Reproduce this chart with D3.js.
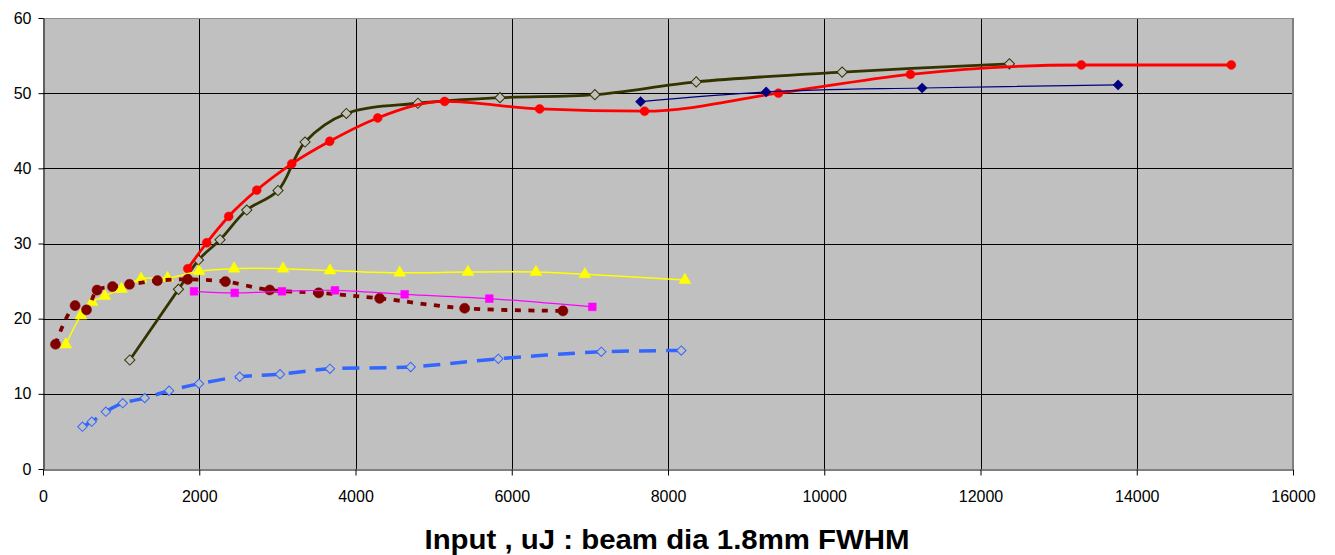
<!DOCTYPE html>
<html>
<head>
<meta charset="utf-8">
<script src="https://cdn.jsdelivr.net/npm/d3@7"></script>
<style>
  body { margin: 0; background: #fff; }
  text { font-family: Arial, "Liberation Sans", sans-serif; }
</style>
</head>
<body>
<div id="chart"></div>
<script>
// axis ticks
const xTicks = [0, 2000, 4000, 6000, 8000, 10000, 12000, 14000, 16000];
const yTicks = [0, 10, 20, 30, 40, 50, 60];

// series values (input uJ, output)
const oliveX = [1111, 1734, 1990, 2266, 2608, 3008, 3354, 3883, 4799, 5849, 7064, 8361, 10229, 12370];
const oliveY = [14.5, 23.9, 27.8, 30.5, 34.45, 37.05, 43.5, 47.3, 48.66, 49.4, 49.8, 51.5, 52.8, 53.9];

const redX = [1853, 2096, 2377, 2736, 3184, 3670, 4284, 5141, 6357, 7700, 9414, 11103, 13291, 15210];
const redY = [26.65, 30.1, 33.6, 37.1, 40.6, 43.6, 46.7, 48.9, 47.9, 47.6, 50.0, 52.5, 53.75, 53.75];

const navyX = [7649, 9257, 11253, 13761];
const navyY = [48.87, 50.16, 50.69, 51.09];

const yellowX = [292, 484, 628, 791, 1004, 1255, 1593, 1997, 2445, 3072, 3673, 4565, 5439, 6309, 6936, 8216];
const yellowY = [16.56, 20.4, 22.2, 23.0, 23.95, 25.3, 25.4, 26.3, 26.65, 26.65, 26.4, 26.1, 26.2, 26.2, 25.9, 25.15];

const maroonX = [160, 411, 557, 692, 889, 1107, 1465, 1853, 2335, 2902, 3529, 4309, 5397, 6655];
const maroonY = [16.6, 21.74, 21.17, 23.8, 24.26, 24.57, 25.06, 25.23, 24.93, 23.82, 23.43, 22.7, 21.38, 21.04];

const magentaX = [1933, 2454, 3059, 3737, 4629, 5713, 7031];
const magentaY = [23.64, 23.43, 23.64, 23.77, 23.24, 22.67, 21.57];

const blueX = [505, 624, 804, 1021, 1302, 1614, 1997, 2518, 3034, 3673, 4706, 5828, 7146, 8170];
const blueY = [5.63, 6.29, 7.62, 8.76, 9.43, 10.41, 11.34, 12.27, 12.62, 13.33, 13.57, 14.66, 15.59, 15.76];

const xTitle = "Input , uJ : beam dia 1.8mm FWHM";

drawChart();

function zip(xs, ys) {
  return xs.map((v, i) => ({x: v, y: ys[i]}));
}

function drawChart() {
  let margin = {top: 18, left: 43},
    width = 1250,
    height = 451;

  let svg = d3.select("#chart")
    .append("svg")
    .attr("width", 1335)
    .attr("height", 555);

  let g = svg.append("g")
    .attr("transform", "translate(" + margin.left + "," + margin.top + ")");

  let x = d3.scaleLinear().domain([0, 16000]).range([0, width]);
  let y = d3.scaleLinear().domain([0, 60]).range([height, 0]);

  // plot background
  g.append("rect")
    .attr("width", width)
    .attr("height", height)
    .attr("fill", "#c0c0c0");

  // grid lines
  g.selectAll(".hgrid")
    .data(yTicks.filter(d => d > 0 && d < 60))
    .enter().append("line")
    .attr("x1", 0).attr("x2", width)
    .attr("y1", d => Math.round(y(d)) + 0.5)
    .attr("y2", d => Math.round(y(d)) + 0.5)
    .attr("stroke", "#000")
    .attr("stroke-width", 1);

  g.selectAll(".vgrid")
    .data(xTicks.filter(d => d > 0 && d < 16000))
    .enter().append("line")
    .attr("y1", 0).attr("y2", height)
    .attr("x1", d => Math.round(x(d)) + 0.5)
    .attr("x2", d => Math.round(x(d)) + 0.5)
    .attr("stroke", "#000")
    .attr("stroke-width", 1);

  // plot frame (top + right in grey)
  g.append("line")
    .attr("x1", 0).attr("x2", width)
    .attr("y1", 0.5).attr("y2", 0.5)
    .attr("stroke", "#909090");
  g.append("line")
    .attr("x1", width).attr("x2", width)
    .attr("y1", 0).attr("y2", height)
    .attr("stroke", "#808080")
    .attr("stroke-width", 2);

  // axes
  let yAxis = g.append("g")
    .attr("transform", "translate(0.5,0)")
    .call(d3.axisLeft(y).tickValues(yTicks).tickSize(5).tickSizeOuter(0).tickPadding(7));
  let xAxis = g.append("g")
    .attr("transform", "translate(0," + (height + 0.5) + ")")
    .call(d3.axisBottom(x).tickValues(xTicks).tickSize(6).tickSizeOuter(0).tickPadding(15).tickFormat(d3.format("d")));

  [yAxis, xAxis].forEach(a => {
    a.select(".domain").attr("stroke", "#000");
    a.selectAll("line").attr("stroke", "#000");
    a.selectAll("text")
      .attr("fill", "#000")
      .style("font-size", "16px")
      .style("font-family", "Arial, 'Liberation Sans', sans-serif");
  });

  // series
  let smooth = d3.curveCatmullRom.alpha(0.5);
  let series = [
    {data: zip(oliveX, oliveY), color: "#333300", width: 2.8, dash: null, shape: "diamond", size: 52, fill: "none", curve: smooth},
    {data: zip(redX, redY), color: "#ff0000", width: 2.8, dash: null, shape: "circle", size: 62, fill: "#ff0000", curve: d3.curveMonotoneX},
    {data: zip(navyX, navyY), color: "#000080", width: 1.2, dash: null, shape: "diamond", size: 52, fill: "#000080", curve: smooth},
    {data: zip(yellowX, yellowY), color: "#ffff00", width: 1.5, dash: null, shape: "triangle", size: 62, fill: "#ffff00", curve: smooth},
    {data: zip(maroonX, maroonY), color: "#800000", width: 3.8, dash: "6,7.5", shape: "circle", size: 80, fill: "#800000", curve: smooth},
    {data: zip(magentaX, magentaY), color: "#ff00ff", width: 1.2, dash: null, shape: "square", size: 60, fill: "#ff00ff", curve: smooth},
    {data: zip(blueX, blueY), color: "#3366ff", width: 3.5, dash: "17,10", shape: "diamond", size: 44, fill: "none", curve: smooth}
  ];

  let shapes = {circle: d3.symbolCircle, diamond: d3.symbolSquare, triangle: d3.symbolTriangle, square: d3.symbolSquare};

  series.forEach(s => {
    let line = d3.line()
      .x(d => x(d.x))
      .y(d => y(d.y))
      .curve(s.curve);

    g.append("path")
      .datum(s.data)
      .attr("d", line)
      .attr("fill", "none")
      .attr("stroke", s.color)
      .attr("stroke-width", s.width)
      .attr("stroke-dasharray", s.dash);

    g.selectAll(null)
      .data(s.data)
      .enter().append("path")
      .attr("d", d3.symbol(shapes[s.shape], s.size))
      .attr("transform", d => "translate(" + x(d.x) + "," + y(d.y) + ")" + (s.shape === "diamond" ? " rotate(45)" : ""))
      .attr("fill", s.fill === "none" ? "#c0c0c0" : s.fill)
      .attr("stroke", s.color)
      .attr("stroke-width", s.fill === "none" ? 1 : 0.5);
  });

  // x axis title
  svg.append("text")
    .attr("x", 667)
    .attr("y", 549)
    .attr("text-anchor", "middle")
    .attr("textLength", 485)
    .attr("lengthAdjust", "spacingAndGlyphs")
    .style("font-size", "27px")
    .style("font-weight", "bold")
    .attr("fill", "#000")
    .text(xTitle);
}
</script>
</body>
</html>
